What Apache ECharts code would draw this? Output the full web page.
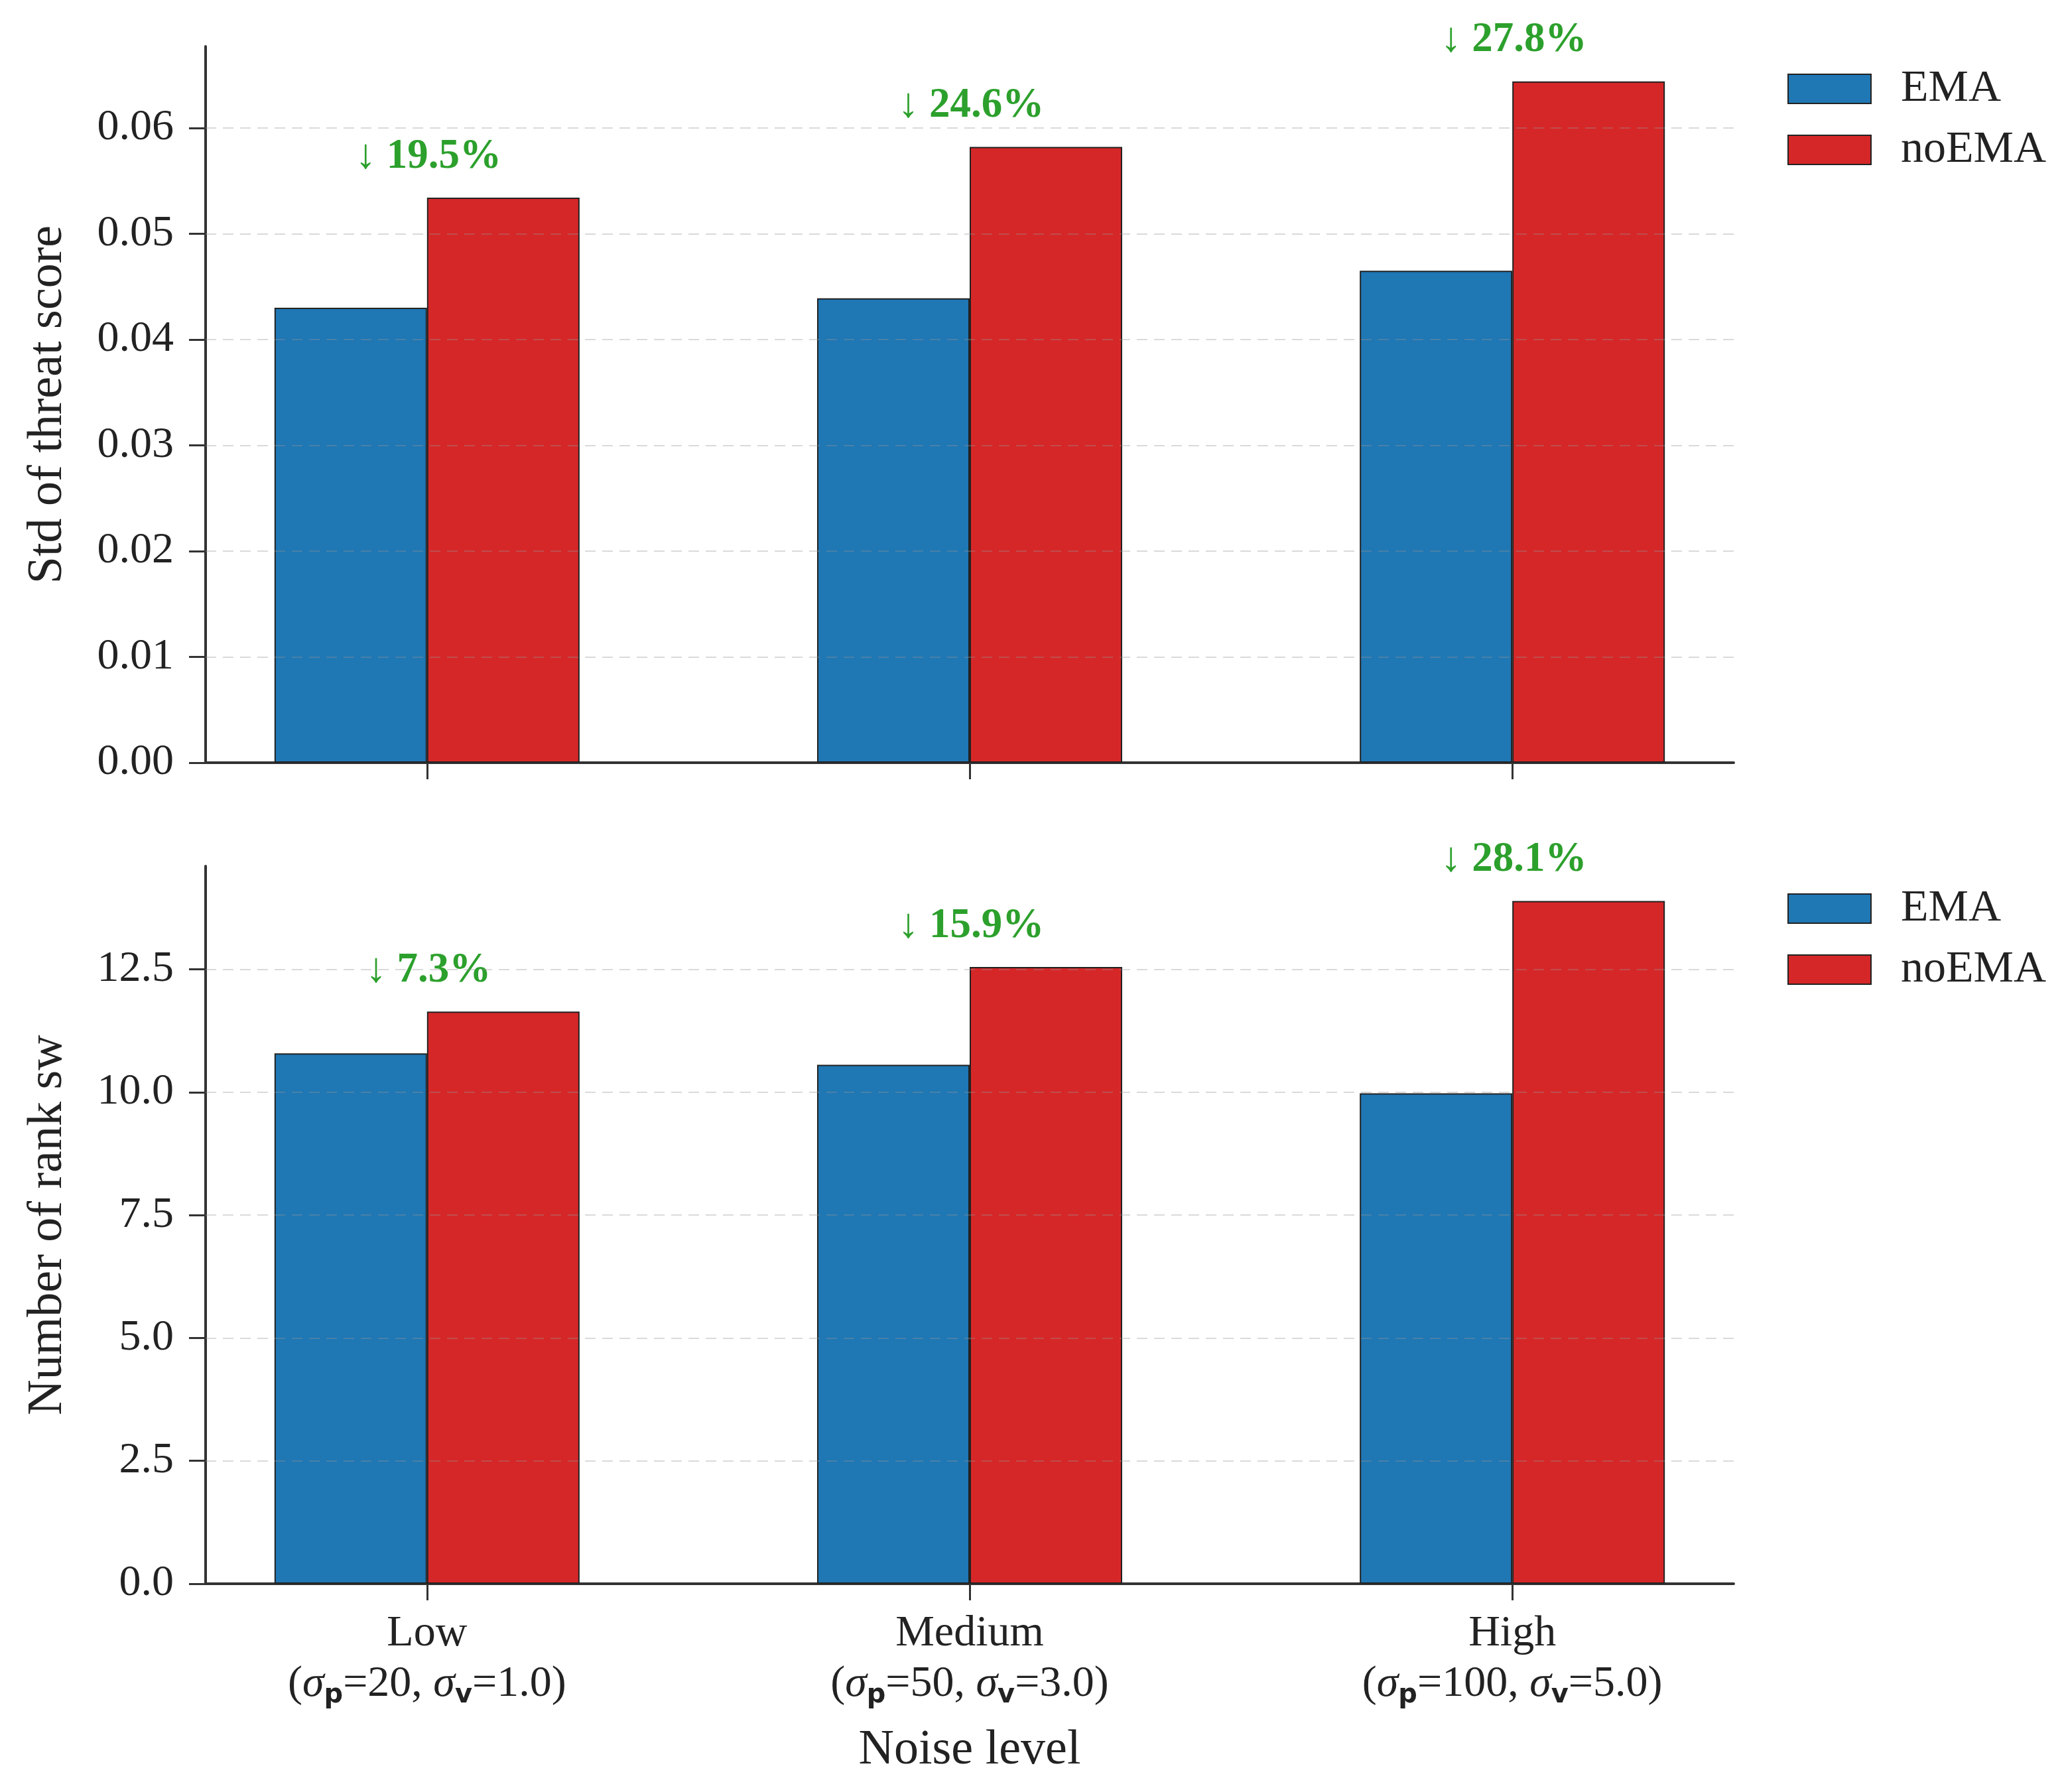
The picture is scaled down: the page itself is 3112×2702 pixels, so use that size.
<!DOCTYPE html>
<html>
<head>
<meta charset="utf-8">
<script src="https://cdn.jsdelivr.net/npm/echarts@6/dist/echarts.min.js"></script>
<style>
  html, body { margin: 0; padding: 0; background: #fff; }
  #chart { width: 3112px; height: 2702px; }
</style>
</head>
<body>
<div id="chart"></div>
<script>
// categories
const levels = ['Low', 'Medium', 'High'];
const sigmaP = ['20', '50', '100'];
const sigmaV = ['1.0', '3.0', '5.0'];

// top panel: std of threat score
const stdEMA = [0.0430, 0.0439, 0.0465];
const stdNoEMA = [0.0534, 0.0582, 0.0644];
const stdDrop = ['19.5', '24.6', '27.8'];
const stdTicks = [0, 0.01, 0.02, 0.03, 0.04, 0.05, 0.06];
const stdMax = 0.0677;

// bottom panel: number of rank switches
const rankEMA = [10.79, 10.56, 9.98];
const rankNoEMA = [11.64, 12.55, 13.89];
const rankDrop = ['7.3', '15.9', '28.1'];
const rankTicks = [0, 2.5, 5, 7.5, 10, 12.5];
const rankMax = 14.6;

const FONT = 'Liberation Serif';
const INK = '#222';
const AXIS = '#333';
const BLUE = '#1f77b4';
const RED = '#d62728';
const GREEN = '#2ca02c';
const BAR_W = 230;

const positions = levels.map((_, i) => i);

function xAxis(gridIndex, withLabels) {
  return {
    type: 'value', gridIndex: gridIndex, min: -0.408, max: 2.408,
    name: withLabels ? 'Noise level' : '',
    nameLocation: 'middle', nameGap: 215,
    nameTextStyle: { fontFamily: FONT, fontSize: 74, color: INK },
    axisLine: { show: true, onZero: false, lineStyle: { color: AXIS, width: 4 } },
    axisTick: { show: true, customValues: positions, length: 25, lineStyle: { color: AXIS, width: 3 } },
    axisLabel: {
      show: withLabels, customValues: positions, margin: 38,
      fontFamily: FONT, fontSize: 66, color: INK, lineHeight: 76,
      formatter: v => {
        const i = Math.round(v);
        return levels[i] + '\n{t|(}{s|σ}{b|p}{t|=' + sigmaP[i] + ', }{s|σ}{b|v}{t|=' + sigmaV[i] + ')}';
      },
      rich: {
        t: { fontFamily: FONT, fontSize: 66, color: INK, lineHeight: 76 },
        s: { fontFamily: FONT, fontSize: 66, fontStyle: 'italic', color: INK, lineHeight: 76 },
        b: { fontFamily: 'DejaVu Sans', fontSize: 40, fontWeight: 'bold', color: INK, lineHeight: 76, padding: [34, 0, 0, 0] }
      }
    },
    splitLine: { show: false }
  };
}

function yAxis(gridIndex, name, ticks, max, digits) {
  return {
    type: 'value', gridIndex: gridIndex, min: 0, max: max,
    name: name, nameLocation: 'middle', nameGap: 200,
    nameTextStyle: { fontFamily: FONT, fontSize: 74, color: INK },
    axisLine: { show: true, onZero: false, lineStyle: { color: AXIS, width: 4 } },
    axisTick: { show: true, customValues: ticks, length: 25, lineStyle: { color: AXIS, width: 3 } },
    axisLabel: {
      customValues: ticks, margin: 48,
      fontFamily: FONT, fontSize: 66, color: INK,
      formatter: v => v.toFixed(digits)
    },
    splitLine: { show: false }
  };
}

function barSeries(name, color, values, idx, extra) {
  return Object.assign({
    name: name, type: 'bar', xAxisIndex: idx, yAxisIndex: idx,
    barWidth: BAR_W, barGap: '0%',
    itemStyle: { color: color, borderColor: '#222', borderWidth: 2 },
    data: values.map((v, i) => [positions[i], v])
  }, extra || {});
}

function gridLines(ticks) {
  return {
    silent: true, symbol: 'none', label: { show: false },
    lineStyle: { color: 'rgba(150,150,150,0.35)', width: 2, type: [16, 10] },
    data: ticks.filter(t => t > 0).map(t => ({ yAxis: t }))
  };
}

function dropLabel(drops) {
  return {
    show: true, position: 'top', distance: 30, offset: [-BAR_W / 2 + 2, 0],
    fontFamily: FONT, fontSize: 63, fontWeight: 'bold', color: GREEN,
    formatter: p => '↓ ' + drops[p.dataIndex] + '%'
  };
}

function legend(top) {
  return {
    orient: 'vertical', left: 2690, top: top,
    itemWidth: 125, itemHeight: 44, itemGap: 24, icon: 'rect',
    textStyle: { fontFamily: FONT, fontSize: 68, color: INK, padding: [0, 0, 0, 40] },
    data: ['EMA', 'noEMA']
  };
}

const chart = echarts.init(document.getElementById('chart'));
chart.setOption({
  backgroundColor: '#fff',
  animation: false,
  legend: [legend(95), legend(1331)],
  grid: [
    { left: 310, right: 498, top: 70, height: 1080 },
    { left: 310, right: 498, top: 1306, height: 1082 }
  ],
  xAxis: [xAxis(0, false), xAxis(1, true)],
  yAxis: [
    yAxis(0, 'Std of threat score', stdTicks, stdMax, 2),
    yAxis(1, 'Number of rank sw', rankTicks, rankMax, 1)
  ],
  series: [
    barSeries('EMA', BLUE, stdEMA, 0, { markLine: gridLines(stdTicks) }),
    barSeries('noEMA', RED, stdNoEMA, 0, { label: dropLabel(stdDrop) }),
    barSeries('EMA', BLUE, rankEMA, 1, { markLine: gridLines(rankTicks) }),
    barSeries('noEMA', RED, rankNoEMA, 1, { label: dropLabel(rankDrop) })
  ]
});
</script>
</body>
</html>
